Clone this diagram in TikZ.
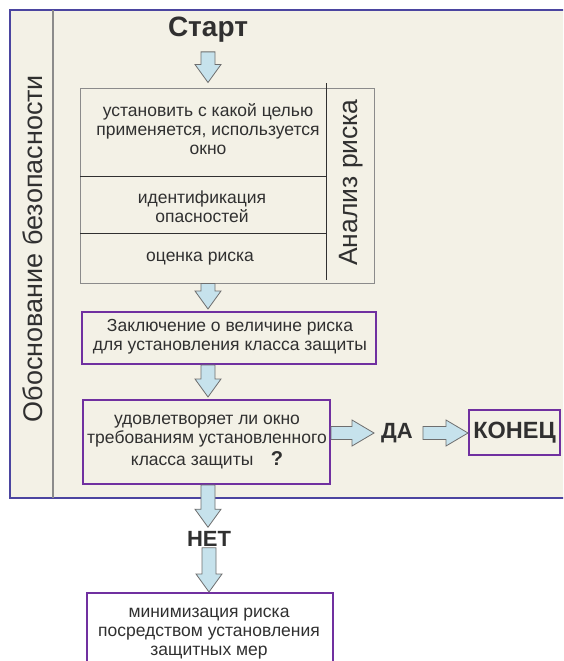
\documentclass[tikz,border=0pt]{standalone}
\usepackage{fontspec}
\setmainfont{Liberation Sans}
\usepackage{xcolor}
\usetikzlibrary{positioning, calc}

\definecolor{panelfill}{HTML}{F3F1E6}
\definecolor{panelline}{HTML}{4B45A0}
\definecolor{boxline}{HTML}{7030A0}
\definecolor{arrowfill}{HTML}{C6E2EC}
\definecolor{arrowline}{HTML}{6E6E6E}
\definecolor{textgray}{HTML}{303030}

\begin{document}
\begin{tikzpicture}[
    x=1pt, y=-1pt,
    every node/.style={text=textgray},
    txt/.style={
        align=center,
        font=\fontsize{17.5}{19}\selectfont,
        inner sep=0pt
    },
    bold/.style={
        font=\fontsize{22}{24}\selectfont\bfseries,
        inner sep=0pt
    },
    box/.style={
        draw=boxline,
        line width=2pt,
        inner sep=0pt
    },
    downarrow/.style={
        draw=arrowline, fill=arrowfill, line width=0.8pt,
        to path={let \p1=(\tikztostart), \p2=(\tikztotarget) in
            (\x1-7pt,\y1) -- (\x1+7pt,\y1) -- (\x1+7pt,\y2+18pt)
            -- (\x1+13pt,\y2+18pt) -- (\x1,\y2) -- (\x1-13pt,\y2+18pt)
            -- (\x1-7pt,\y2+18pt) -- cycle}
    },
    rightarrow/.style={
        draw=arrowline, fill=arrowfill, line width=0.8pt,
        to path={let \p1=(\tikztostart), \p2=(\tikztotarget) in
            (\x1,\y1+6.5pt) -- (\x1,\y1-6.5pt) -- (\x2-22pt,\y1-6.5pt)
            -- (\x2-22pt,\y1-13pt) -- (\x2,\y1) -- (\x2-22pt,\y1+13pt)
            -- (\x2-22pt,\y1+6.5pt) -- cycle}
    }
]
\clip (0,0) rectangle (563,661);

% Background panel
\path[fill=panelfill, draw=panelline, line width=2pt] (10,10) rectangle (620,498);
\draw[draw=arrowline!80, line width=1.5pt] (53,10) -- (53,498);
\node (side) at (33,248.5) [rotate=90, font=\fontsize{27}{29}\selectfont] {Обоснование безопасности};

% Start
\node (start) at (208,30) [font=\fontsize{28}{30}\selectfont\bfseries, inner sep=0pt] {Старт};

% Risk analysis block
\node (risk) at (227,185.5) [draw=arrowline!80, line width=1pt, minimum width=294pt, minimum height=195pt, inner sep=0pt] {};
\draw[textgray, line width=1pt] (80,176) -- (326,176);
\draw[textgray, line width=1pt] (80,233) -- (326,233);
\draw[textgray, line width=1pt] (326,83) -- (326,280);
\node (purpose) at (208,129) [txt] {установить с какой целью\\применяется, используется\\окно};
\node (hazard) at (202,207) [txt] {идентификация\\опасностей};
\node (estim) at (200,259) [txt] {оценка риска};
\node (analysis) at (351,182.5) [rotate=90, font=\fontsize{26.5}{28}\selectfont, inner sep=0pt] {Анализ риска};

% Conclusion
\node (concl) at (229,338) [box, minimum width=294pt, minimum height=52pt] {};
\node (concltxt) at (230,337) [txt] {Заключение о величине риска\\для установления класса защиты};

% Decision
\node (decide) at (206.5,442) [box, minimum width=247pt, minimum height=84pt] {};
\node (decidetxt) at (207,442) [txt] {удовлетворяет ли окно\\требованиям установленного\\[3pt]класса защиты\quad{\fontsize{20}{20}\selectfont\bfseries ?}};

% Yes branch
\node (yes) at (397,433) [bold] {ДА};
\node (konec) at (514.5,432.5) [box, minimum width=91pt, minimum height=45pt, font=\fontsize{23.5}{25}\selectfont\bfseries] {КОНЕЦ};

% No branch
\node (no) at (209,539) [bold] {НЕТ};
\node (minim) at (210,650) [box, minimum width=246pt, minimum height=114pt] {};
\node (minimtxt) at (209,634) [txt] {минимизация риска\\посредством установления\\защитных мер};

% Arrows
\path[downarrow] ([yshift=-9pt]start.south) to ([yshift=5pt]risk.north -| start);
\path[downarrow] (risk.south -| start) to ([yshift=2pt]concl.north -| start);
\path[downarrow] (concl.south -| start) to ([yshift=2pt]decide.north -| start);
\path[downarrow] (decide.south -| start) to ([yshift=4pt]no.north);
\path[downarrow] ([yshift=-1pt]no.south) to (minim.north -| start);
\path[rightarrow] (decide.east |- yes) to ([xshift=-7pt]yes.west);
\path[rightarrow] ([xshift=10pt]yes.east) to (konec.west);

\end{tikzpicture}
\end{document}
